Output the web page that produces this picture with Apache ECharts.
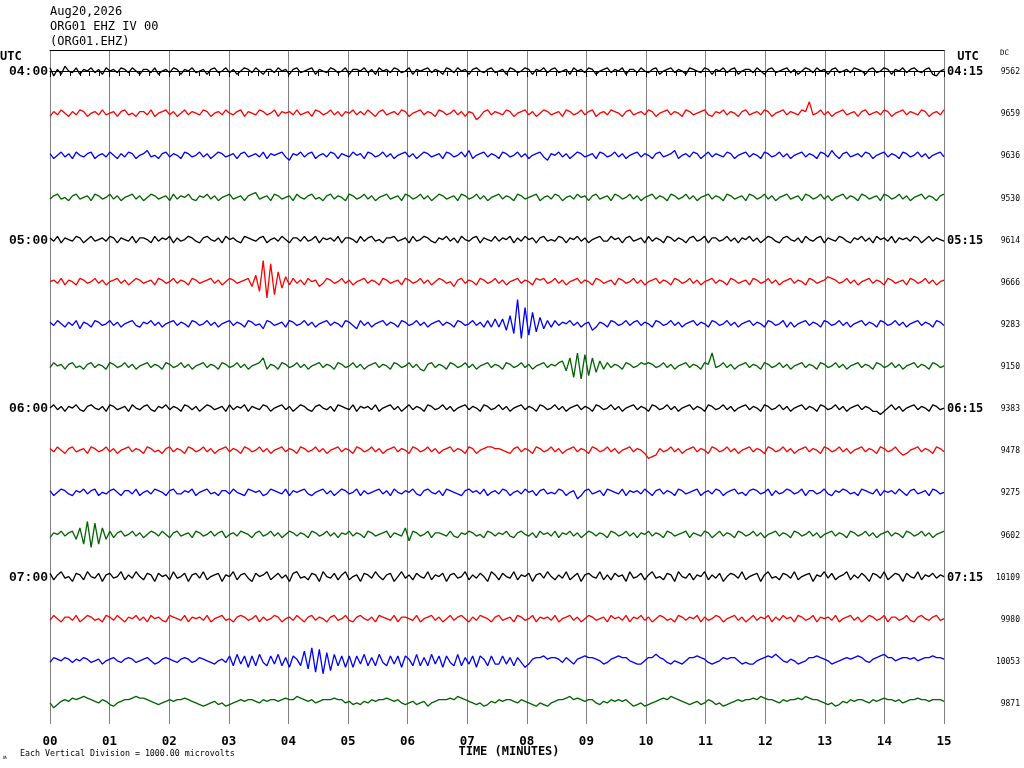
<!DOCTYPE html>
<html><head><meta charset="utf-8">
<script src="https://cdn.jsdelivr.net/npm/echarts@6/dist/echarts.min.js"></script>
<style>html,body{margin:0;padding:0;background:#fff}#c{width:1024px;height:768px}</style>
</head><body><div id="c"></div>
<script>
const titleLines = ["Aug20,2026", "ORG01 EHZ IV 00", "(ORG01.EHZ)"];
const minuteLabels = ["00","01","02","03","04","05","06","07","08","09","10","11","12","13","14","15"];
const leftTimes = ["04:00","","","","05:00","","","","06:00","","","","07:00","","",""];
const rightTimes = ["04:15","","","","05:15","","","","06:15","","","","07:15","","",""];
const dcValues = [9562,9659,9636,9530,9614,9666,9283,9150,9383,9478,9275,9602,10109,9980,10053,9871];
const footNote = "Each Vertical Division = 1000.00 microvolts";
const axisTitle = "TIME (MINUTES)";

const r0 = [2,-3,1,-2,3,0,-1,2,-2,1,0,2,-1,1,-2,2,0,1,-1,2,
1,-1,2,0,-2,1,1,-1,2,-2,0,1,-1,2,1,-2,1,0,2,-1,
0,1,-2,1,2,-1,0,2,-1,1,-2,0,2,1,-1,2,0,-2,1,1,
-1,2,0,1,-2,1,2,-1,0,1,2,-2,1,0,-1,2,1,-1,0,2,
-2,1,1,0,2,-1,1,-2,2,0,1,-1,2,1,-1,0,2,-2,1,0,
1,2,-1,1,0,-2,2,1,-1,2,0,1,-2,1,2,0,-1,1,2,-1,
0,1,-2,2,1,-1,0,2,1,-2,1,0,2,-1,1,2,-1,0,1,-2,
2,0,1,-1,2,1,-2,0,1,2,-1,1,0,2,-2,1,1,-1,2,0,
-1,1,2,-2,0,1,2,-1,1,0,-2,2,1,0,-1,2,1,-2,1,0,
2,-1,1,2,-2,0,1,1,-1,2,0,-2,1,2,-1,0,1,2,-1,1,
-2,0,2,1,-1,2,0,1,-2,1,2,-1,0,1,-1,2,1,0,-2,1,
2,-1,0,2,1,-2,1,0,2,-1,1,2,0,-1,1,2,-2,-3,0,1];
const r1 = [-2,1,-1,2,0,-2,1,-1,2,1,-2,0,1,-1,2,-1,0,1,-2,1,
2,-1,0,-2,1,1,-1,2,-2,0,1,2,-1,1,-2,0,2,-1,1,0,
-1,2,1,-2,0,1,-1,2,0,-1,1,2,-2,1,0,-1,2,1,-1,0,
2,-2,1,0,1,-1,2,-1,0,1,-2,2,1,-1,0,2,-1,1,-2,1,
0,2,-1,1,-1,2,0,-2,1,2,-1,0,1,-1,2,1,-2,0,1,2,
-1,1,0,-2,2,1,-1,0,2,-1,1,-2,1,0,-4,-2,1,2,-1,1,
0,-1,2,1,-2,0,1,2,-1,1,-2,0,2,1,-1,0,1,-2,2,1,
-1,0,2,-1,1,2,-2,0,1,-1,2,1,0,-2,1,2,-1,0,1,-1,
2,1,-2,0,1,2,-1,1,0,-2,2,1,-1,0,1,2,-1,-2,1,0,
2,-1,1,0,-2,1,2,-1,0,1,-1,2,1,-2,0,1,2,-1,1,0,
-1,2,1,7,-1,0,2,-1,1,-2,0,1,2,-1,0,1,-2,1,2,-1,
0,1,-1,2,1,-2,0,1,2,-1,1,0,-1,2,1,-2,0,1,-1,2];
const r2 = [1,-2,0,2,-1,1,-2,2,0,-1,1,2,-2,0,1,-1,2,0,-2,1,
-1,2,1,-2,0,1,3,-1,0,-2,1,2,-1,1,0,-2,2,1,-1,0,
2,-1,1,-2,0,2,1,-1,0,1,-2,1,2,-1,0,1,-1,2,-2,1,
0,1,2,-1,-3,1,0,2,-1,1,2,-2,0,1,-1,2,1,-2,1,0,
-1,2,0,1,-2,2,1,-1,0,2,-1,1,-2,0,1,2,-1,1,-2,0,
2,1,-1,0,1,-2,2,1,-1,0,2,-1,3,-2,0,1,2,-1,1,0,
-2,2,1,-1,0,2,-1,1,-2,0,1,2,-1,-3,1,0,2,-1,1,-2,
0,2,1,-1,0,1,-2,2,1,-1,0,2,-1,1,-2,0,1,2,-1,1,
0,-2,1,2,-1,0,1,3,-2,0,1,-1,2,1,-2,0,2,-1,1,0,
-1,2,1,-2,0,1,2,-1,1,0,-2,2,1,-1,0,2,-1,1,-2,0,
1,2,-1,1,0,-2,2,1,-1,3,0,-2,1,2,-1,0,1,-1,2,1,
-2,0,1,2,-1,1,0,-2,2,1,-1,0,2,-1,1,-2,0,1,2,-1];
const r3 = [-1,1,2,-1,0,-2,1,2,-1,0,1,-2,2,1,-1,0,2,-1,1,-2,
0,1,2,-1,1,-2,0,2,1,-1,0,1,-2,2,-1,1,0,2,-1,-2,
1,0,2,-1,1,-2,0,1,2,-1,0,1,-2,1,2,3,-1,0,1,-2,
2,1,-1,0,1,-2,2,0,-1,1,2,-1,0,-2,1,2,-1,1,0,-2,
2,1,-1,0,2,-1,1,-2,0,1,2,-1,0,1,-2,2,1,-1,0,2,
-1,1,-2,0,2,1,-1,0,1,-2,2,1,-1,0,2,-1,1,-2,0,1,
2,-1,1,0,-2,2,1,-1,0,1,2,-2,0,1,-1,2,1,-2,0,1,
-1,2,0,1,-2,1,2,-1,0,1,-2,2,1,-1,0,2,-1,1,-2,0,
1,2,-1,1,0,-2,2,1,-1,0,2,-1,1,-2,0,1,2,-1,1,0,
-2,2,1,-1,0,1,-2,2,1,-1,0,2,-1,1,-2,0,1,2,-1,0,
1,-2,2,1,-1,0,2,-1,1,-2,0,1,2,-1,1,0,-2,2,1,-1,
0,1,-2,2,1,-1,0,2,-1,1,-2,0,1,2,-1,1,0,-2,1,2];
const r4 = [1,-1,2,-2,1,0,-1,2,1,-2,0,2,-1,0,1,-1,2,1,-2,1,
0,-1,2,-2,1,1,0,-2,2,-1,1,0,2,-2,1,-1,0,2,1,-1,
-2,1,2,0,-1,1,-2,2,0,1,-1,-2,2,1,0,-1,1,2,-2,0,
1,-1,2,0,-2,1,1,-1,2,-1,0,2,-2,1,0,1,-1,2,-2,1,
1,0,-2,2,-1,1,2,-1,0,-2,1,1,2,-1,0,1,-2,2,-1,0,
2,1,-1,-2,1,0,2,-1,1,-2,2,0,-1,1,2,-2,1,0,-1,2,
-1,1,0,2,-2,1,-1,2,0,1,-2,1,2,-1,0,-1,2,1,-2,1,
0,2,-1,1,-2,0,1,2,-1,-1,2,0,1,-2,1,2,-1,0,1,-2,
2,-1,1,0,-2,2,1,-1,1,0,-2,1,2,-1,0,2,-2,1,1,-1,
0,2,-1,1,-2,1,0,2,-1,1,-2,0,2,1,-1,-2,1,2,0,-1,
1,-2,2,0,-1,1,2,-2,1,0,-1,2,1,-1,-2,1,0,2,-1,1,
-2,2,0,1,-1,2,-2,1,0,1,-1,2,1,-2,0,2,-1,1,0,-1];
const r5 = [0,1,-1,2,-2,1,0,-2,2,1,-1,0,2,-1,1,-2,0,1,2,-1,
1,-2,0,2,1,-1,0,1,-2,2,1,-1,0,2,-1,1,0,-2,2,1,
-1,0,1,2,-1,1,-2,0,2,1,-1,0,1,2,-3,4,-6,13,-10,11,
-8,6,-4,3,-2,2,-1,1,-2,2,0,1,-3,-1,2,1,-1,0,2,-1,
1,-2,0,1,2,-1,1,0,-2,2,1,-1,0,1,-2,2,1,-1,0,2,
-1,1,-2,0,2,1,-1,0,-3,1,2,-1,1,0,-2,2,1,-1,0,2,
-1,1,-2,0,1,2,-1,1,0,-2,2,1,2,-1,0,2,-1,1,-2,0,
1,2,-1,1,0,-2,2,1,-1,0,1,-2,2,1,-1,0,2,-1,1,-2,
0,1,2,-1,1,0,-2,2,1,-1,0,2,-1,1,-2,0,1,2,-1,1,
0,-2,2,1,-1,0,1,-2,2,1,-1,0,2,-1,1,-2,0,1,2,-1,
1,0,-2,2,1,-1,0,1,3,2,1,-1,0,2,-1,1,-2,0,1,2,
-1,1,0,-2,2,1,-1,0,1,-2,2,1,-1,0,2,-1,1,-2,0,1];
const r6 = [1,-1,2,0,-2,1,-1,2,-3,1,0,-2,2,1,-1,0,2,-1,1,-2,
0,1,2,-1,-2,1,0,2,-1,1,-2,0,1,2,-1,1,0,-2,2,1,
-1,0,2,-1,1,-2,0,1,2,-1,1,0,-2,2,1,-1,0,-3,2,1,
-1,0,1,-2,2,1,-1,0,2,-1,1,-2,0,1,2,-1,1,0,-2,2,
1,-1,-3,2,-1,1,-2,0,1,2,-1,1,0,-2,2,1,-1,0,2,-1,
1,-2,0,1,2,-1,1,0,-2,2,1,-1,0,2,-1,1,-2,2,-2,3,
-2,3,-4,5,-6,15,-9,10,-7,7,-5,4,-3,2,-2,2,-1,1,0,2,
-1,1,-2,0,1,-4,-2,1,0,-2,2,1,-1,0,2,-1,1,2,-1,1,
0,-2,2,1,-1,0,2,-1,1,-2,0,1,2,-1,1,0,-2,2,1,-1,
0,2,-1,1,-2,0,1,2,-1,1,0,-2,2,1,-1,0,2,-2,1,-2,
0,1,2,-1,1,0,-2,2,1,-1,0,2,-1,1,-2,0,1,2,-1,1,
0,-2,2,1,-1,0,2,-1,1,-2,0,1,2,-1,1,0,-2,2,1,-1];
const r7 = [-1,2,0,1,-2,1,2,-1,0,-2,1,2,-1,1,0,-2,2,1,-1,0,
2,-1,1,-2,0,1,2,-1,1,0,-2,2,1,-1,0,2,-1,1,-2,0,
1,2,-1,1,0,-2,2,1,-1,0,2,-1,1,-2,0,1,2,5,-2,1,
0,-2,2,1,-1,0,2,-1,1,-2,0,1,2,-1,1,0,-2,2,1,-1,
0,2,-1,1,-2,0,1,2,-1,1,0,-2,2,1,-1,0,2,-1,1,-2,
-3,1,2,-1,1,0,-2,2,1,-1,0,2,-1,1,-2,0,1,2,-1,1,
0,-2,2,1,-1,0,2,-1,1,-2,0,1,2,-1,1,0,2,3,-3,5,
-7,8,-8,7,-6,5,-4,3,-2,2,-1,1,0,-2,2,1,-1,0,2,1,
2,1,-1,0,2,-1,1,-2,0,1,2,-1,1,0,-2,2,1,8,-1,0,
2,-1,1,-2,0,1,2,-1,1,0,-2,2,1,-1,0,2,-1,1,-2,0,
1,2,-1,1,0,-2,2,1,-1,0,2,-1,1,-2,0,1,2,-1,1,0,
-2,2,1,-1,0,2,-1,1,-2,0,1,2,-1,1,0,-2,2,1,-1,0];
const r8 = [0,2,-1,1,-2,1,0,2,-1,-2,1,2,0,-1,1,-2,2,1,-1,0,
1,-2,2,0,-1,1,2,-1,-2,1,0,2,-1,1,0,-2,2,1,-1,1,
-2,0,2,1,-1,0,1,-2,2,-1,1,0,2,-2,1,0,-1,2,1,-2,
0,1,2,-1,1,-2,0,2,1,-1,-2,1,2,0,-1,1,-2,2,1,0,
-1,2,-2,1,0,1,-1,2,-2,0,1,2,-1,1,-2,0,2,-1,1,0,
-2,2,1,-1,0,2,-1,1,-2,0,1,2,-1,1,0,-2,2,1,-1,0,
2,-1,1,-2,0,1,2,-1,1,0,-2,2,1,-1,0,2,-1,1,-2,0,
1,2,-1,1,0,-2,2,1,-1,0,2,-1,1,-2,0,1,2,-1,1,0,
-2,2,1,-1,0,2,-1,1,-2,0,1,2,-1,1,0,-2,2,1,-1,0,
2,-1,1,-2,0,1,2,-1,1,0,-2,2,1,-1,0,2,-1,1,-2,0,
1,2,-1,1,0,-2,2,1,-1,0,2,-1,1,-2,0,1,2,-1,1,0,
-2,-2,-4,-2,0,2,-1,1,-2,0,1,2,-1,1,0,-2,2,1,-1,0];
const r9 = [1,-1,2,0,-2,1,2,-1,0,1,-2,2,1,-1,0,2,-1,1,-2,0,
1,2,-1,1,0,-2,2,1,-1,0,-2,1,2,-1,1,0,-2,2,1,-1,
0,2,-1,1,-2,0,1,2,-1,1,0,-2,2,1,-1,0,2,-1,1,-2,
0,1,2,-1,1,0,-2,2,1,-1,0,2,-1,1,-2,0,1,2,-1,1,
0,-2,2,1,-1,0,2,-1,1,-2,0,1,2,-1,1,0,-2,2,1,-1,
0,2,-1,1,-2,0,1,2,-1,1,0,-2,2,1,-2,0,1,2,2,1,
1,0,-1,-2,1,2,-1,1,0,-2,2,1,-1,0,2,-1,1,-2,0,1,
2,-1,1,0,-2,2,1,-1,0,2,-1,1,-2,0,1,2,-1,1,0,-2,
-5,-4,-3,1,-1,0,2,-1,1,-2,0,1,2,-1,1,0,-2,2,1,-1,
0,2,-1,1,-2,0,1,2,-1,1,0,-2,2,1,-1,0,2,-1,1,-2,
0,1,2,-1,1,0,-2,2,1,-1,0,2,-1,1,-2,0,1,2,-1,1,
0,-2,2,1,-1,0,2,-1,-3,-2,0,1,2,-1,1,0,-2,2,1,-1];
const r10 = [1,-2,0,2,1,-1,-2,1,0,2,-1,1,2,-2,0,-1,1,2,0,-2,
1,1,-1,2,-2,0,1,-1,2,1,0,-2,1,2,-1,-1,1,0,2,-2,
0,1,2,-1,0,-2,1,1,-1,2,0,-1,-2,2,1,0,1,-2,-1,2,
1,0,-1,2,-2,1,0,1,2,-1,-2,0,1,2,-1,1,-2,0,2,1,
-1,0,2,-2,1,-1,0,1,2,-1,1,-2,2,0,-1,1,0,2,-1,-2,
1,2,0,-1,1,-2,2,1,0,-1,-2,1,2,0,1,-1,2,-2,0,1,
-1,2,1,-2,0,1,-1,2,0,1,-2,1,2,-1,0,-1,2,1,-2,0,
1,-4,-2,1,2,-1,0,1,-2,2,1,0,-1,2,-2,1,0,1,-1,2,
0,-2,1,2,-1,1,0,-2,2,1,-1,0,1,2,-2,0,1,-1,2,1,
-2,0,1,2,-1,0,-2,1,2,1,-1,0,2,-2,1,-1,0,2,1,-1,
0,2,-2,1,1,-1,0,2,-1,-2,1,0,2,1,-1,0,-2,2,1,0,
-1,2,-2,1,0,1,-1,2,0,-2,1,2,-1,0,1,-2,2,1,-1,0];
const r11 = [-2,1,0,2,-1,1,2,-3,4,-6,8,-8,7,-6,4,-3,2,-2,1,2,
-1,0,2,-1,1,-2,0,2,1,-1,2,0,-2,1,2,-1,0,1,-2,2,
1,-1,0,2,-1,1,2,-2,0,1,-1,2,1,0,-2,1,2,-1,0,2,
-1,1,-2,0,2,1,-1,1,0,-2,2,1,-1,0,2,-1,1,-2,1,0,
2,-1,1,0,-2,2,1,-1,0,1,2,-2,1,0,-1,4,-4,2,1,-1,
0,2,-2,1,1,0,-1,2,-1,-2,1,0,2,1,-1,0,-2,2,1,-1,
1,0,2,-1,-2,1,2,0,-1,1,-2,2,0,1,-1,2,-2,1,0,2,
-1,1,-2,0,2,1,-1,1,0,-2,2,1,-1,0,2,-1,1,-2,1,0,
2,-1,1,0,-2,2,1,-1,0,1,2,-2,1,0,-1,2,1,-2,0,2,
-1,1,0,-2,2,1,-1,0,2,-1,1,-2,0,1,2,-1,1,0,-2,2,
1,-1,0,2,-1,1,-2,0,1,2,-1,1,0,-2,2,1,-1,0,2,-1,
1,-2,0,1,2,-1,1,0,-2,2,1,-1,0,2,-1,1,-2,0,1,2];
const r12 = [2,-2,1,3,-1,0,-3,2,1,-2,3,0,-1,2,-3,1,2,-1,0,3,
-2,1,-1,3,0,-2,2,1,-3,2,0,1,-2,3,-1,0,2,-3,1,2,
-1,3,-2,0,1,2,-3,1,0,3,-2,1,2,-1,-3,2,0,1,3,-2,
0,2,-1,1,-3,2,3,-1,0,-2,2,1,-3,3,0,-1,2,-2,1,3,
-2,0,1,-3,2,1,-1,3,0,-2,1,2,-3,0,3,-1,1,-2,2,0,
-1,3,-2,1,0,2,-3,1,2,-1,0,3,-2,1,-1,2,0,-3,3,1,
-2,2,0,-1,3,-2,1,0,2,-3,1,2,-1,3,0,-2,1,-1,3,-2,
0,2,-3,1,2,0,-1,3,-2,1,-2,2,0,1,-3,3,-1,0,2,-2,
1,3,-1,0,-2,2,1,-3,3,0,-1,2,-2,1,0,3,-2,1,-1,2,
-3,0,2,1,-1,3,-2,0,1,2,-3,1,3,-1,0,-2,2,1,-1,3,
-2,0,1,2,-3,1,0,3,-1,2,-2,0,1,3,-2,1,-1,2,0,-3,
2,1,-1,3,-2,0,2,1,-3,2,0,-1,3,-2,1,0,2,-1,1,0];
const r13 = [-1,2,0,-2,1,1,-1,2,-2,0,2,1,-1,0,-2,2,1,-1,2,0,
-2,1,0,2,-1,1,-2,2,0,1,-1,-2,2,1,0,-1,2,-2,1,0,
1,-1,2,-2,0,1,2,-1,0,-2,1,2,1,-1,0,2,-2,1,-1,0,
2,1,-2,0,1,-1,2,0,-2,1,2,-1,1,0,-2,1,2,-1,0,2,
-1,-2,1,2,0,-1,1,-2,2,1,0,-1,2,-2,1,1,0,-1,2,-2,
0,1,2,-1,1,-2,0,2,-1,1,2,0,-2,1,-1,2,1,0,-2,1,
2,-1,0,1,-2,2,1,-1,0,2,-2,1,0,1,-1,2,-2,0,1,2,
-1,1,-2,0,2,1,-1,0,1,-2,2,0,1,-1,2,-2,1,0,2,-1,
1,-2,0,2,1,-1,0,-2,2,1,-1,1,0,2,-2,1,-1,0,2,1,
-2,0,1,2,-1,1,-2,0,2,-1,1,0,2,-2,1,-1,2,0,1,-2,
2,1,-1,0,2,-2,1,0,1,-1,2,-2,0,1,2,-1,1,-2,0,2,
1,-1,0,2,-2,1,1,-1,0,2,-1,-2,1,2,0,-1,1,2,-1,0];
const r14 = [-1,2,1,0,2,1,-1,1,0,2,1,-1,0,1,-2,0,1,2,0,-1,
1,2,1,-1,0,1,2,0,-2,-1,1,2,1,0,-1,1,2,1,-1,0,
2,1,0,-1,-2,0,1,-1,3,-3,4,-2,3,-4,3,-3,4,-1,-3,3,
-2,4,-3,2,-4,3,1,-3,6,-5,8,-7,7,-8,5,-6,4,-3,3,-4,
3,-4,3,-2,4,-3,2,-3,4,-1,-3,3,-2,3,-4,3,1,-3,4,-3,
2,-3,4,-2,3,-4,3,-1,-3,4,-3,2,-2,3,-4,3,1,-3,3,-2,
-2,3,-2,2,-3,2,-1,-4,-2,1,2,2,3,1,2,2,1,-1,2,0,
-2,1,2,3,2,2,1,0,-2,-1,1,2,3,2,2,0,-1,-2,-2,0,
2,2,4,2,1,-1,-2,0,-1,-2,0,2,2,3,2,1,-1,-2,-1,0,
2,1,2,2,0,-2,-1,-2,-2,0,1,2,3,2,4,2,0,-1,1,0,
-2,-1,0,2,2,3,2,1,0,-2,-1,0,1,2,1,2,3,2,0,-1,
1,2,3,4,2,2,0,1,2,2,1,2,0,1,2,2,3,2,2,1];
const r15 = [0,-3,-1,1,2,1,3,2,3,4,3,2,1,0,2,1,-1,-2,0,1,
2,2,3,4,3,3,2,1,0,-1,0,1,2,1,2,2,3,2,1,0,
-1,-2,-1,0,1,-1,0,-2,-1,0,1,2,1,2,2,1,0,2,1,2,
2,1,2,3,2,2,4,3,2,1,2,0,1,2,2,2,3,2,2,0,
1,-1,0,-1,1,0,2,1,2,2,3,2,1,2,0,-1,0,1,-1,0,
1,-2,0,1,2,2,2,3,2,4,3,2,1,0,-1,0,-2,-1,1,0,
2,1,2,2,1,0,2,1,0,-1,-2,0,-1,-2,0,1,2,2,3,4,
2,3,2,1,2,2,0,-1,1,0,2,1,2,1,2,0,-2,-1,0,-2,
-1,0,1,2,3,2,4,3,2,1,0,-1,0,1,-1,0,2,1,-1,0,
-2,-1,0,1,2,1,2,2,3,2,4,3,2,2,1,0,2,1,2,2,
3,2,4,3,2,2,1,0,-1,0,-2,-1,1,0,2,1,2,2,1,0,
2,1,2,3,2,2,1,2,0,1,2,2,3,2,2,1,2,2,2,1];

const traces = [r0,r1,r2,r3,r4,r5,r6,r7,r8,r9,r10,r11,r12,r13,r14,r15];
const traceColors = ["#000000","#ff0000","#0000ff","#006400"];
const GAIN = 26; // display units per trace row
const MINUTES = 15;

const chart = echarts.init(document.getElementById('c'), null, {renderer:'canvas'});
const mono = '"DejaVu Sans Mono", monospace';
const serifMono = '"Liberation Mono", "DejaVu Sans Mono", monospace';

const series = traces.map((arr, i) => ({
  type: 'line',
  data: arr.map((v, k) => [k * MINUTES / (arr.length - 1), i - v / GAIN]),
  showSymbol: false,
  symbol: 'none',
  silent: true,
  animation: false,
  lineStyle: { color: traceColors[i % 4], width: 1.3 },
  itemStyle: { color: traceColors[i % 4] }
}));

chart.setOption({
  backgroundColor: '#ffffff',
  animation: false,
  grid: { left: 50, right: 80, top: 50, bottom: 44, containLabel: false, outerBoundsMode: 'none' },
  xAxis: [{
    type: 'value', min: 0, max: MINUTES, interval: 1, position: 'bottom',
    axisLine: { show: true, lineStyle: { color: '#000', width: 1 } },
    axisTick: { show: true, length: 6, lineStyle: { color: '#000', width: 1 } },
    minorTick: { show: true, splitNumber: 6, length: 5, lineStyle: { color: '#000', width: 1 } },
    splitLine: { show: true, lineStyle: { color: '#808080', width: 1 } },
    minorSplitLine: { show: false },
    axisLabel: { formatter: v => minuteLabels[v] || '', fontFamily: mono, fontWeight: 'bold', fontSize: 12.5, color: '#000', margin: 11 }
  }, {
    type: 'value', min: 0, max: MINUTES, position: 'top',
    axisLine: { show: true, lineStyle: { color: '#000', width: 1 } },
    axisTick: { show: false }, axisLabel: { show: false }, splitLine: { show: false }
  }],
  yAxis: {
    type: 'value', inverse: true, min: -0.5, max: 15.5,
    axisLine: { show: false }, axisTick: { show: false }, axisLabel: { show: false }, splitLine: { show: false }
  },
  series: series
});

const graphics = [];
titleLines.forEach((t, i) => graphics.push({
  type: 'text', silent: true,
  style: { text: t, x: 50, y: 12 + i * 15, textVerticalAlign: 'middle', font: '12px ' + mono, fill: '#000' }
}));
graphics.push({ type: 'text', silent: true, style: { text: 'UTC', x: 0, y: 57, textVerticalAlign: 'middle', font: 'bold 12px ' + mono, fill: '#000' } });
graphics.push({ type: 'text', silent: true, style: { text: 'UTC', x: 968, y: 57, textAlign: 'center', textVerticalAlign: 'middle', font: 'bold 12px ' + mono, fill: '#000' } });
graphics.push({ type: 'text', silent: true, style: { text: 'DC', x: 1000, y: 53, textVerticalAlign: 'middle', font: '7.5px ' + mono, fill: '#000' } });
traces.forEach((arr, i) => {
  const py = chart.convertToPixel({ yAxisIndex: 0 }, i);
  if (leftTimes[i]) graphics.push({ type: 'text', silent: true, style: { text: leftTimes[i], x: 48, y: py + 1, textAlign: 'right', textVerticalAlign: 'middle', font: 'bold 13px ' + serifMono, fill: '#000' } });
  if (rightTimes[i]) graphics.push({ type: 'text', silent: true, style: { text: rightTimes[i], x: 947, y: py + 1, textAlign: 'left', textVerticalAlign: 'middle', font: 'bold 12px ' + mono, fill: '#000' } });
  graphics.push({ type: 'text', silent: true, style: { text: String(dcValues[i]), x: 1020, y: py + 1, textAlign: 'right', textVerticalAlign: 'middle', font: '8px ' + mono, fill: '#000' } });
});
graphics.push({ type: 'text', silent: true, style: { text: axisTitle, x: 509, y: 752, textAlign: 'center', textVerticalAlign: 'middle', font: 'bold 12px ' + mono, fill: '#000' } });
graphics.push({ type: 'text', silent: true, style: { text: footNote, x: 20, y: 754, textVerticalAlign: 'middle', font: '8.3px ' + mono, fill: '#000' } });
graphics.push({ type: 'text', silent: true, style: { text: 'ʍ', x: 3, y: 757, textVerticalAlign: 'middle', font: '6px ' + mono, fill: '#000' } });
chart.setOption({ graphic: graphics });
</script>
</body></html>
